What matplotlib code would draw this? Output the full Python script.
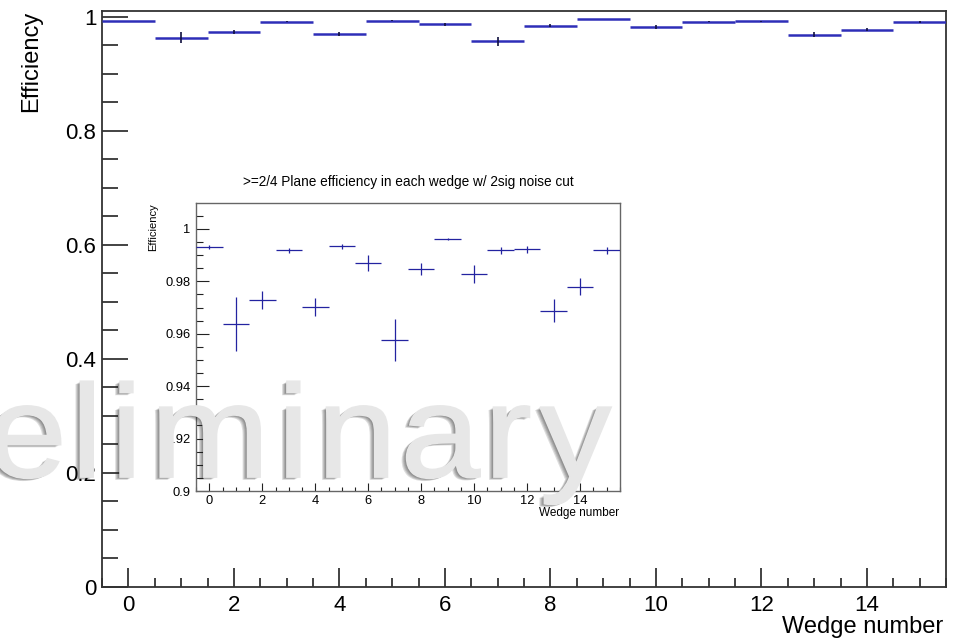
import numpy as np
import matplotlib
matplotlib.use("Agg")
import matplotlib.pyplot as plt
from matplotlib.ticker import MultipleLocator, FuncFormatter
from matplotlib import patheffects as pe
from matplotlib.textpath import TextPath
from matplotlib.font_manager import FontProperties, findfont
from matplotlib.ft2font import FT2Font
from matplotlib.patches import PathPatch
from matplotlib.path import Path
from matplotlib.transforms import Affine2D, IdentityTransform

plt.rcParams['font.family'] = ['Liberation Sans', 'DejaVu Sans']

# Plane efficiency (>=2 of 4 planes) per wedge, with statistical errors
wedges = np.arange(16)
efficiency = [0.9930, 0.9638, 0.9729, 0.9918, 0.9703, 0.9934, 0.9870, 0.9575,
              0.9847, 0.9962, 0.9829, 0.9918, 0.9922, 0.9688, 0.9780, 0.9918]
eff_err = [0.0008, 0.0102, 0.0035, 0.0010, 0.0035, 0.0010, 0.0032, 0.0080,
           0.0023, 0.0005, 0.0034, 0.0013, 0.0012, 0.0043, 0.0031, 0.0015]

main_xticks = [0, 2, 4, 6, 8, 10, 12, 14]
main_yticks = [0, 0.2, 0.4, 0.6, 0.8, 1.0]
inset_yticks = [0.90, 0.92, 0.94, 0.96, 0.98, 1.00]

title = ">=2/4 Plane efficiency in each wedge w/ 2sig noise cut"
watermark = "Preliminary"

W, H = 964, 642
fig = plt.figure(figsize=(W / 100, H / 100), dpi=100)
fig.patch.set_facecolor('white')

fmt = FuncFormatter(lambda v, p: f"{v:g}")
eff = np.array(efficiency)
err = np.array(eff_err)


def px_box(left, top, right, bottom):
    return [left / W, 1 - bottom / H, (right - left) / W, (bottom - top) / H]


# ---- main frame: full efficiency range ----
ax = fig.add_axes(px_box(102, 11, 946, 587))
ax.set_xlim(-0.5, 15.5)
ax.set_ylim(0, 1.0105)
ax.hlines(eff, wedges - 0.5, wedges + 0.5, color='#2e2eb8', lw=1.8, zorder=3)
ax.vlines(wedges, eff - err, eff + err, color='#101040', lw=1.2, zorder=4)

ax.xaxis.set_minor_locator(MultipleLocator(0.5))
ax.set_xticks(main_xticks)
ax.yaxis.set_minor_locator(MultipleLocator(0.05))
ax.set_yticks(main_yticks)
ax.xaxis.set_major_formatter(fmt)
ax.yaxis.set_major_formatter(fmt)
ax.tick_params(axis='both', which='both', direction='in', top=False, right=False,
               color='#222222', width=1.2)
ax.tick_params(axis='y', which='major', length=19, labelsize=16, pad=4)
ax.tick_params(axis='y', which='minor', length=11.5)
ax.tick_params(axis='x', which='major', length=13.5, labelsize=16, pad=6)
ax.tick_params(axis='x', which='minor', length=6.5)
for s in ax.spines.values():
    s.set_color('#333333')
    s.set_linewidth(1.3)

ax.set_ylabel("Efficiency", fontsize=17, loc='top')
ax.yaxis.set_label_coords(-0.071, 1.0)
ax.set_xlabel("Wedge number", fontsize=17, loc='right')
ax.xaxis.set_label_coords(0.9964, -0.050)

# ---- inset: zoom on the high-efficiency region ----
axi = fig.add_axes(px_box(196, 203, 620, 491))
axi.set_facecolor('white')
axi.set_xlim(-0.5, 15.5)
axi.set_ylim(0.9, 1.0099)
axi.hlines(eff, wedges - 0.5, wedges + 0.5, color='#2323a0', lw=0.9, zorder=3)
axi.vlines(wedges, eff - err, eff + err, color='#2323a0', lw=0.9, zorder=3)

axi.xaxis.set_major_locator(MultipleLocator(2))
axi.xaxis.set_minor_locator(MultipleLocator(0.5))
axi.set_yticks(inset_yticks)
axi.yaxis.set_minor_locator(MultipleLocator(0.005))
axi.xaxis.set_major_formatter(fmt)
axi.yaxis.set_major_formatter(fmt)
axi.tick_params(axis='both', which='both', direction='in', top=False, right=False,
                color='#222222', width=0.8)
axi.tick_params(axis='y', which='major', length=9.5, labelsize=9.3, pad=4)
axi.tick_params(axis='y', which='minor', length=5)
axi.tick_params(axis='x', which='major', length=6, labelsize=9.3, pad=3)
axi.tick_params(axis='x', which='minor', length=3)
for s in axi.spines.values():
    s.set_color('#666666')
    s.set_linewidth(1.0)

axi.set_title(title, fontsize=9.8, pad=12.5)
axi.set_ylabel("Efficiency", fontsize=8, loc='top')
axi.yaxis.set_label_coords(-0.090, 1.0)
axi.set_xlabel("Wedge number", fontsize=8.5, loc='right')
axi.xaxis.set_label_coords(0.998, -0.055)


# ---- embossed watermark over everything ----
def glyph_advances(prop, text):
    font = FT2Font(findfont(prop))
    font.set_size(100, 72)
    return [font.load_char(ord(c)).linearHoriAdvance / 65536 / 100 for c in text]


fp_reg = FontProperties(family='Liberation Sans')
fp_bold = FontProperties(family='Liberation Sans', weight='bold')
adv_reg = glyph_advances(fp_reg, watermark)
adv_bold = glyph_advances(fp_bold, watermark)

# regular glyphs laid out on the wider bold spacing
pieces, pen = [], 0.0
for ch, ar, ab in zip(watermark, adv_reg, adv_bold):
    g = TextPath((0, 0), ch, size=1, prop=fp_reg)
    pieces.append(g.transformed(Affine2D().translate(pen + (ab - ar) / 2, 0)))
    pen += ab
wm_path = Path.make_compound_path(*pieces)

sx, sy = 143.0, 132.0          # em size in pixels, horizontal / vertical
x_right, baseline = 611.0, H - 477.0
xmax = wm_path.get_extents().x1
wm_tf = Affine2D().scale(sx, sy).translate(x_right - xmax * sx, baseline)
shadow = [pe.SimplePatchShadow(offset=(-0.72 * d, -0.4 * d),
                               shadow_rgbFace='#202020', alpha=0.15)
          for d in (1, 2, 3, 4, 5)]
wm = PathPatch(wm_path, facecolor='#e7e7e7', edgecolor='#e7e7e7', lw=1.3,
               transform=wm_tf + IdentityTransform(), zorder=100,
               path_effects=shadow + [pe.Normal()])
fig.add_artist(wm)

fig.savefig("out.png", dpi=100)
